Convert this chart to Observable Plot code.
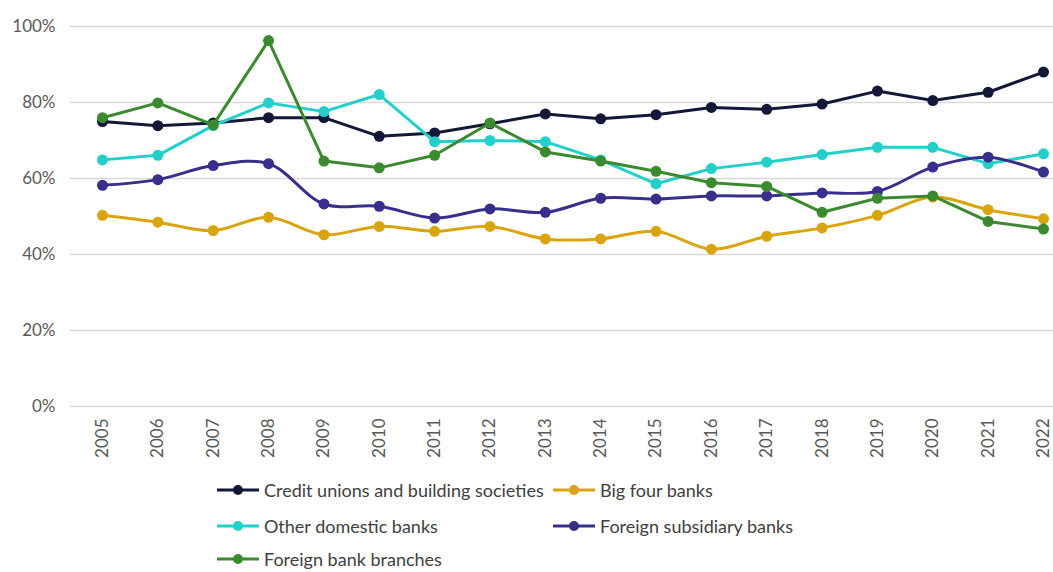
<!DOCTYPE html>
<html>
<head>
<meta charset="utf-8">
<script src="https://cdn.jsdelivr.net/npm/d3@7"></script>
<script src="https://cdn.jsdelivr.net/npm/@observablehq/plot@0.6"></script>
<style>
  html, body { margin: 0; padding: 0; background: #fff; }
  #wrap { position: relative; width: 1053px; height: 572px; overflow: hidden; font-family: Lato, "Open Sans", sans-serif; }
  #legend { position: absolute; left: 0; top: 0; width: 1053px; height: 572px; pointer-events: none; }
  .item { position: absolute; display: flex; align-items: center; font-size: 18px; line-height: 20px; color: #404040; white-space: nowrap; }
  .item svg { margin-right: 5px; }
</style>
</head>
<body>
<div id="wrap"><div id="chart"></div><div id="legend"></div></div>
<script>
const years = [2005,2006,2007,2008,2009,2010,2011,2012,2013,2014,2015,2016,2017,2018,2019,2020,2021,2022];
const creditUnions =      [75.0,73.9,74.6,76.0,76.0,71.1,72.0,74.4,77.0,75.7,76.8,78.7,78.2,79.6,83.0,80.5,82.7,88.0];
const bigFour =           [50.3,48.5,46.3,49.8,45.2,47.4,46.1,47.4,44.1,44.1,46.1,41.4,44.8,47.0,50.3,55.1,51.8,49.4];
const otherDomestic =     [64.9,66.1,73.9,79.9,77.6,82.1,69.7,70.0,69.7,64.9,58.6,62.6,64.3,66.3,68.2,68.2,63.9,66.5];
const foreignSubsidiary = [58.2,59.7,63.4,63.9,53.3,52.7,49.6,52.0,51.1,54.8,54.6,55.4,55.4,56.2,56.6,63.0,65.6,61.7];
const foreignBranches =   [76.0,79.9,74.1,96.3,64.6,62.8,66.1,74.6,67.0,64.6,61.9,58.9,57.9,51.1,54.8,55.4,48.7,46.7];
const seriesNames = ["Credit unions and building societies","Big four banks","Other domestic banks","Foreign subsidiary banks","Foreign bank branches"];
const seriesColors = ["#131838","#d9a40e","#22cfca","#382f8c","#3b8a30"];
const seriesCurves = ["linear","catmull-rom","linear","catmull-rom","linear"];
const yTicks = [0,20,40,60,80,100];

const seriesValues = [creditUnions, bigFour, otherDomestic, foreignSubsidiary, foreignBranches];
const marks = [
  Plot.ruleY(yTicks, {stroke: "#d9d9d9", strokeWidth: 1.5, insetLeft: -32, insetRight: -10}),
  Plot.axisY(yTicks, {tickSize: 0, tickPadding: 47, tickFormat: d => d + "%", fontSize: 17, fill: "#595959", label: null}),
  Plot.axisX(years, {tickSize: 0, tickPadding: 12, tickRotate: -90, tickFormat: d => String(d), fontSize: 17, fill: "#595959", label: null})
];
seriesValues.forEach((vals, i) => {
  const data = years.map((y, j) => ({year: y, value: vals[j]}));
  marks.push(Plot.line(data, {x: "year", y: "value", stroke: seriesColors[i], strokeWidth: 3, curve: seriesCurves[i]}));
  marks.push(Plot.dot(data, {x: "year", y: "value", fill: seriesColors[i], r: 5.5}));
});

const chart = Plot.plot({
  width: 1053,
  height: 470,
  marginLeft: 102,
  marginRight: 10,
  marginTop: 26,
  marginBottom: 64,
  x: {type: "linear", domain: [2005, 2022]},
  y: {domain: [0, 100]},
  style: {fontFamily: "Lato, 'Open Sans', sans-serif", background: "#fff", overflow: "visible"},
  marks
});
document.getElementById("chart").appendChild(chart);

// legend
const legendPos = [[217, 490],[553, 490],[217, 526],[553, 526],[217, 559]];
const legend = document.getElementById("legend");
seriesNames.forEach((name, i) => {
  const d = document.createElement("div");
  d.className = "item";
  d.style.left = legendPos[i][0] + "px";
  d.style.top = (legendPos[i][1] - 10) + "px";
  d.style.height = "20px";
  d.innerHTML = `<svg width="42" height="12"><line x1="0" y1="6" x2="42" y2="6" stroke="${seriesColors[i]}" stroke-width="3"/><circle cx="21" cy="6" r="5" fill="${seriesColors[i]}"/></svg><span>${name}</span>`;
  legend.appendChild(d);
});
</script>
</body>
</html>
